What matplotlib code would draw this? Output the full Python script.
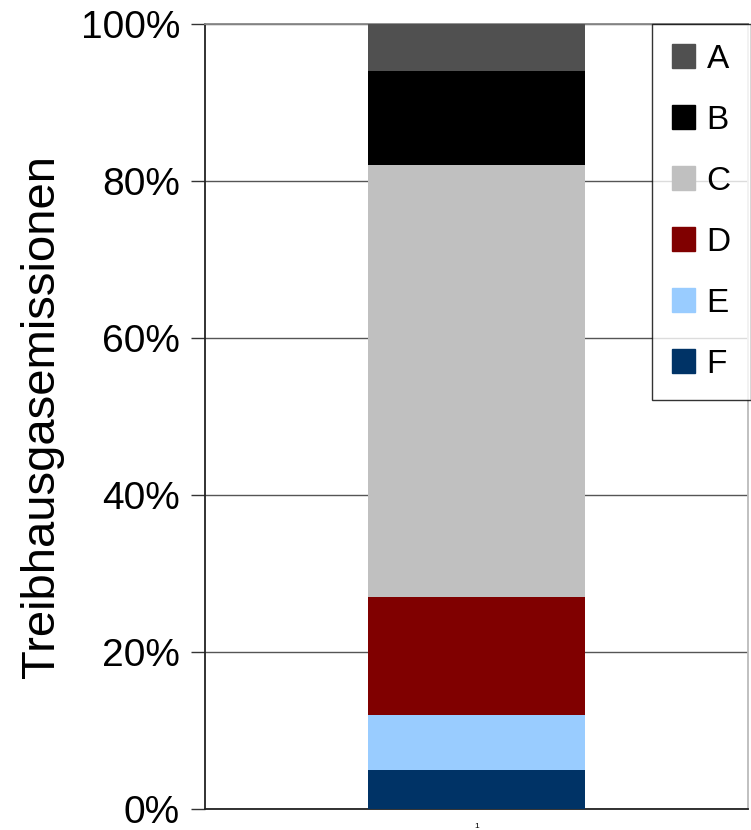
import matplotlib.pyplot as plt
from matplotlib.patches import Patch

plt.rcParams['font.family'] = ['Liberation Sans', 'DejaVu Sans']

categories = ['1']
labels = ['F', 'E', 'D', 'C', 'B', 'A']
shares = [5, 7, 15, 55, 12, 6]  # percent, bottom to top
colors = ['#003366', '#99ccff', '#800000', '#c0c0c0', '#000000', '#505050']

fig = plt.figure(figsize=(7.51, 8.30), dpi=100)
ax = fig.add_axes([0.273, 0.0253, 0.723, 0.946])

bottom = 0
for lab, val, col in zip(labels, shares, colors):
    ax.bar(categories, [val], bottom=bottom, width=0.4, color=col, label=lab, zorder=3)
    bottom += val

ax.set_xlim(-0.5, 0.5)
ax.set_ylim(0, 100)
ax.set_yticks(range(0, 101, 20))
ax.set_yticklabels([f'{v}%' for v in range(0, 101, 20)], fontsize=28)
ax.tick_params(axis='x', labelsize=6, length=0, pad=10)
ax.tick_params(axis='y', length=10, width=1, color='#333333', pad=8)
ax.yaxis.grid(True, color='#555555', linewidth=1, zorder=0)

ax.spines['left'].set_color('#222222')
ax.spines['bottom'].set_color('#222222')
ax.spines['top'].set_color('#888888')
ax.spines['right'].set_color('#bbbbbb')
for s in ax.spines.values():
    s.set_linewidth(1.3)

ax.set_ylabel('Treibhausgasemissionen', fontsize=34, labelpad=12)

handles = [Patch(color=c, label=l) for l, c in zip(labels[::-1], colors[::-1])]
leg = ax.legend(handles=handles, loc='upper right', bbox_to_anchor=(1.005, 1.0),
                fontsize=24, frameon=True, fancybox=False, edgecolor='black',
                handlelength=0.7, handleheight=0.7, handletextpad=0.35,
                labelspacing=0.9, borderpad=0.6, borderaxespad=0)
leg.get_frame().set_linewidth(1)

fig.savefig('out.png', dpi=100)
